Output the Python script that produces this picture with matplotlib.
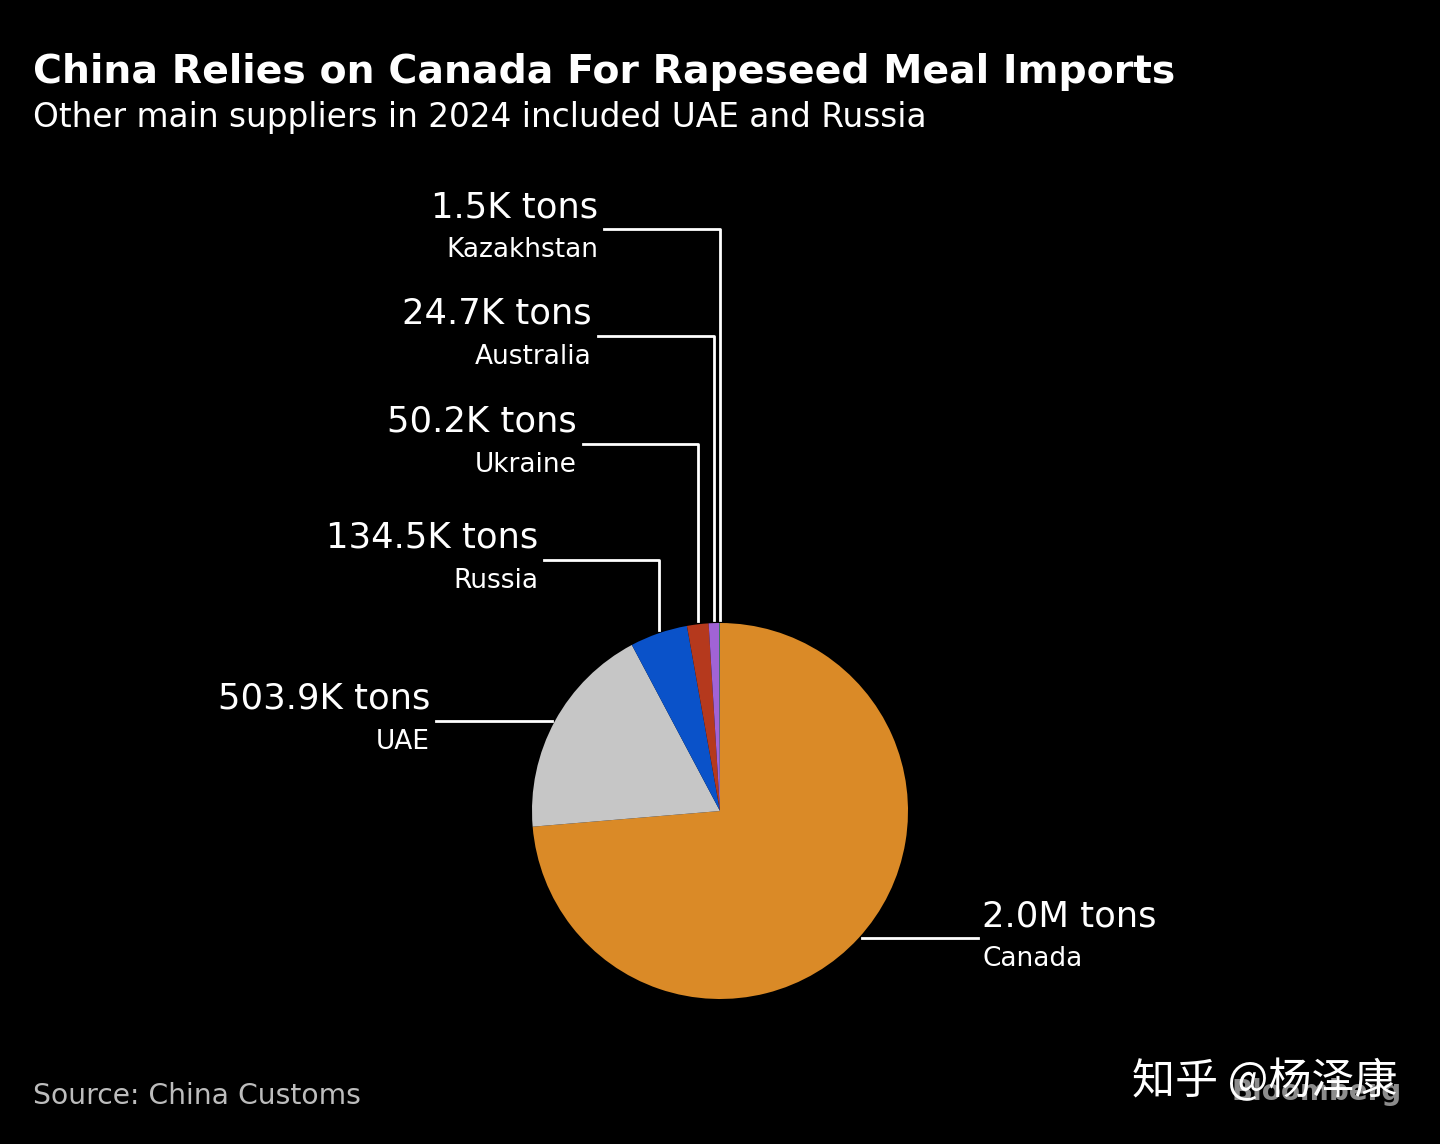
import matplotlib.pyplot as plt
import numpy as np

countries = ["Canada", "UAE", "Russia", "Ukraine", "Australia", "Kazakhstan"]
tons_k = [2000.0, 503.9, 134.5, 50.2, 24.7, 1.5]
value_labels = ["2.0M tons", "503.9K tons", "134.5K tons", "50.2K tons", "24.7K tons", "1.5K tons"]
colors = ["#DA8A27", "#C6C6C6", "#0A52C9", "#B5391D", "#A163D6", "#3FA86A"]

W, H = 1440, 1144
plt.rcParams["font.family"] = ["DejaVu Sans"]

fig = plt.figure(figsize=(W / 100, H / 100), dpi=100, facecolor="black")
ax = fig.add_axes([0, 0, 1, 1])
ax.set_facecolor("black")

cx, cy, r = 720, H - 811, 188
wedges, _ = ax.pie(tons_k, colors=colors, startangle=90, counterclock=False,
                   center=(cx, cy), radius=r, wedgeprops=dict(linewidth=0))
ax.set_xlim(0, W)
ax.set_ylim(0, H)
ax.set_aspect("equal")
ax.axis("off")

# leader line height (pixels from top) and label edge for each country
line_y = {"Kazakhstan": 229, "Australia": 336, "Ukraine": 444, "Russia": 560, "UAE": 719, "Canada": 938}
label_x = {"Kazakhstan": 598, "Australia": 592, "Ukraine": 577, "Russia": 538, "UAE": 430, "Canada": 982}

VAL_FS, NAME_FS = 25.5, 19

for w, name, val in zip(wedges, countries, value_labels):
    mid = np.deg2rad((w.theta1 + w.theta2) / 2)
    px, py = cx + r * np.cos(mid), cy + r * np.sin(mid)
    ly = H - line_y[name]
    lx = label_x[name]
    if name == "Canada":
        ax.plot([px + 4, lx - 4], [py, py], color="white", lw=2)
        ax.text(lx, py + 5, val, color="white", fontsize=VAL_FS, ha="left", va="bottom")
        ax.text(lx, py - 8, name, color="white", fontsize=NAME_FS, ha="left", va="top")
    elif name == "UAE":
        ax.plot([lx + 6, px - 3], [py, py], color="white", lw=2)
        ax.text(lx, py + 5, val, color="white", fontsize=VAL_FS, ha="right", va="bottom")
        ax.text(lx, py - 8, name, color="white", fontsize=NAME_FS, ha="right", va="top")
    else:
        ax.plot([lx + 6, px, px], [ly, ly, py + 3], color="white", lw=2)
        ax.text(lx, ly + 5, val, color="white", fontsize=VAL_FS, ha="right", va="bottom")
        ax.text(lx, ly - 8, name, color="white", fontsize=NAME_FS, ha="right", va="top")

fig.text(33 / W, 1 - 72 / H, "China Relies on Canada For Rapeseed Meal Imports",
         color="white", fontsize=28.4, fontweight="bold", ha="left", va="center")
fig.text(33 / W, 1 - 118 / H, "Other main suppliers in 2024 included UAE and Russia",
         color="white", fontsize=23.6, ha="left", va="center")
fig.text(33 / W, 1 - 1096 / H, "Source: China Customs", color="#BDBDBD",
         fontsize=20.3, ha="left", va="center")
fig.text(1232 / W, 1 - 1092 / H, "Bloomberg", color="#8C8C8C", fontsize=20,
         fontweight="bold", ha="left", va="center")
fig.text(1132 / W, 1 - 1082 / H, "知乎 @杨泽康", color="white", fontsize=31,
         family=["Noto Sans CJK SC", "DejaVu Sans"], ha="left", va="center")

fig.savefig("out.png", dpi=100, facecolor="black")
